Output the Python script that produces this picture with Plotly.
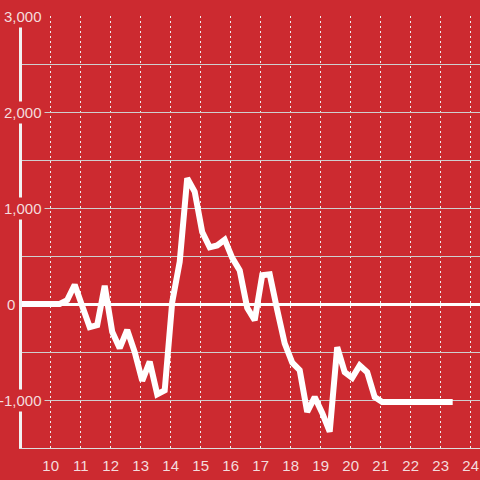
import plotly.graph_objects as go

# data
hours = [9.0, 10.3, 10.55, 10.8, 11.05, 11.3, 11.55, 11.8, 12.05, 12.3, 12.55, 12.8,
         13.05, 13.3, 13.55, 13.8, 14.05, 14.3, 14.55, 14.8, 15.05, 15.3, 15.55, 15.8,
         16.05, 16.3, 16.55, 16.8, 17.05, 17.3, 17.55, 17.8, 18.05, 18.3, 18.55, 18.8,
         19.05, 19.3, 19.55, 19.8, 20.05, 20.3, 20.55, 20.8, 21.05, 23.4]
values = [0, 0, 40, 200, -20, -240, -220, 190, -290, -460, -270, -500,
          -800, -600, -940, -900, 20, 440, 1310, 1170, 750, 590, 610, 670,
          480, 350, -40, -170, 300, 310, -60, -410, -610, -690, -1125, -970,
          -1135, -1330, -450, -710, -770, -640, -710, -970, -1020, -1020]

y_tick_values = [3000, 2000, 1000, 0, -1000]
y_tick_labels = ["3,000", "2,000", "1,000", "0", "-1,000"]
x_tick_values = list(range(10, 25))
x_tick_labels = [str(v) for v in x_tick_values]

BG = "#cc2a30"
LABEL = "#f4dcdd"
FONT = "Liberation Sans, Arial, sans-serif"

fig = go.Figure()
fig.add_trace(go.Scatter(x=hours, y=values, mode="lines",
                         line=dict(color="#ffffff", width=6),
                         hoverinfo="skip", showlegend=False))

annotations = []
for v, lab in zip(y_tick_values, y_tick_labels):
    if v == 0:
        annotations.append(dict(xref="paper", yref="y", x=0, y=v, text=lab,
                                showarrow=False, xanchor="right", yanchor="middle",
                                xshift=-5, font=dict(family=FONT, size=15, color=LABEL)))
    else:
        annotations.append(dict(xref="paper", yref="y", x=0, y=v, text=lab,
                                showarrow=False, xanchor="right", yanchor="middle",
                                xshift=23, bgcolor=BG, borderpad=2,
                                font=dict(family=FONT, size=15, color=LABEL)))

fig.update_layout(
    width=480, height=480,
    margin=dict(l=22, r=0, t=16, b=32),
    paper_bgcolor=BG, plot_bgcolor=BG,
    showlegend=False,
    annotations=annotations,
    xaxis=dict(range=[9.043, 24.31], tickmode="array", tickvals=x_tick_values,
               ticktext=x_tick_labels, showgrid=True, gridcolor="#eeeeee",
               griddash="2px,3px", gridwidth=1, zeroline=False,
               showline=True, linecolor="#dddddd", linewidth=1,
               ticks="", ticklabelstandoff=4,
               tickfont=dict(family=FONT, size=15, color=LABEL)),
    yaxis=dict(range=[-1500, 3000], dtick=500, tick0=0, showgrid=True,
               gridcolor="#cfcfcf", gridwidth=1, showticklabels=False,
               zeroline=True, zerolinecolor="#ffffff", zerolinewidth=3,
               showline=True, linecolor="#f2f2f2", linewidth=3, ticks=""),
)

fig.write_html("out.html", config={"displayModeBar": False},
               post_script="document.body.style.margin='0';document.body.style.background='" + BG + "';")
